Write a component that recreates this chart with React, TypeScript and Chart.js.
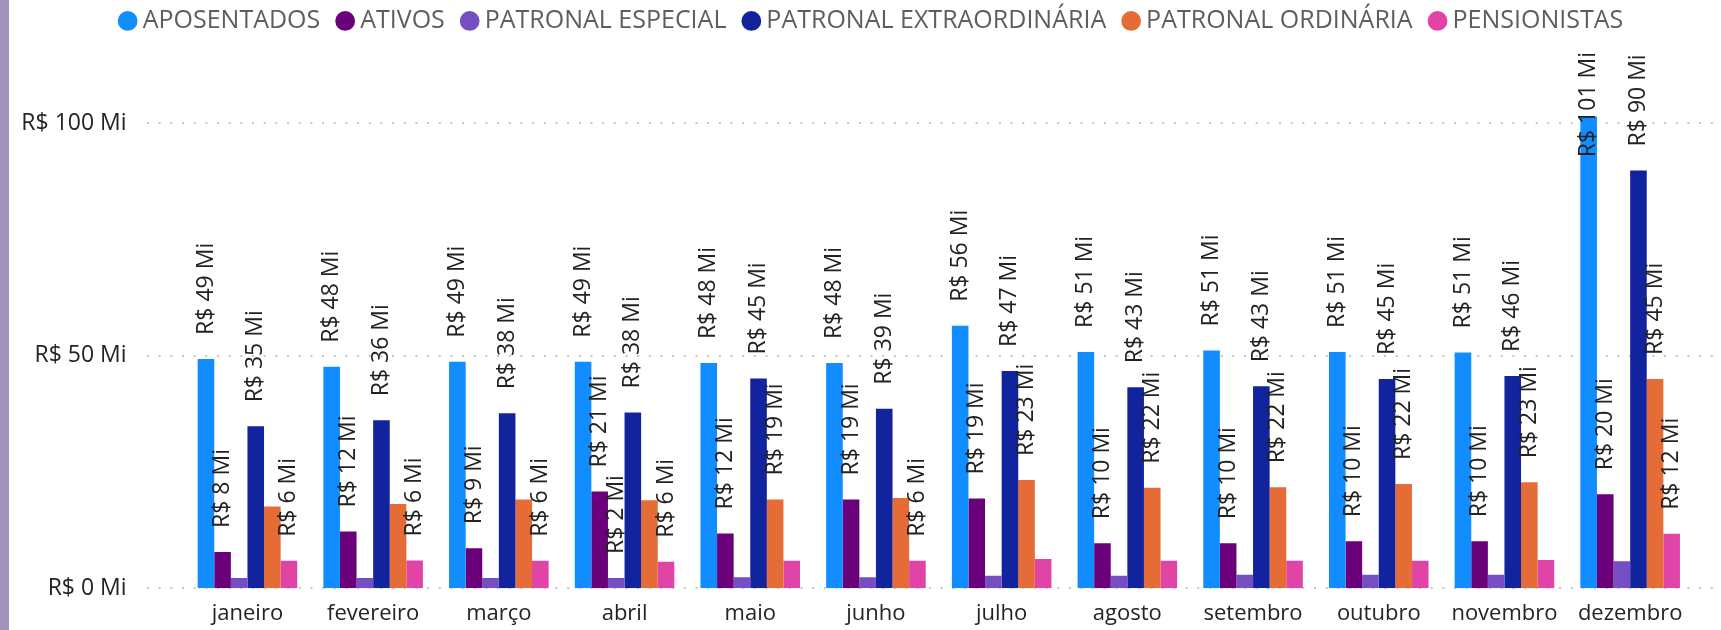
import React, { useEffect, useRef } from "react";
import { Chart, registerables } from "chart.js";

Chart.register(...registerables);

const months = [
  "janeiro", "fevereiro", "março", "abril", "maio", "junho",
  "julho", "agosto", "setembro", "outubro", "novembro", "dezembro",
];

const seriesNames = [
  "APOSENTADOS",
  "ATIVOS",
  "PATRONAL ESPECIAL",
  "PATRONAL EXTRAORDINÁRIA",
  "PATRONAL ORDINÁRIA",
  "PENSIONISTAS",
];

// values in R$ millions
const aposentados = [49.3, 47.6, 48.7, 48.7, 48.4, 48.4, 56.4, 50.8, 51.1, 50.8, 50.7, 101.4];
const ativos = [7.8, 12.2, 8.6, 20.8, 11.8, 19.1, 19.3, 9.7, 9.7, 10.1, 10.1, 20.2];
const patronalEspecial = [2.2, 2.2, 2.2, 2.2, 2.4, 2.4, 2.7, 2.7, 2.9, 2.9, 2.9, 5.8];
const patronalExtra = [34.8, 36.1, 37.6, 37.8, 45.1, 38.6, 46.7, 43.2, 43.4, 45.0, 45.6, 89.8];
const patronalOrdinaria = [17.6, 18.1, 19.1, 18.9, 19.1, 19.4, 23.3, 21.6, 21.7, 22.4, 22.8, 45.0];
const pensionistas = [5.9, 6.0, 5.9, 5.7, 5.9, 5.9, 6.3, 5.9, 5.9, 5.9, 6.1, 11.7];

// which data labels are visible (1 = shown)
const aposentadosLabels = [1, 1, 1, 1, 1, 1, 1, 1, 1, 1, 1, 1];
const ativosLabels = [1, 1, 1, 1, 1, 1, 1, 1, 1, 1, 1, 1];
const especialLabels = [0, 0, 0, 1, 0, 0, 0, 0, 0, 0, 0, 0];
const extraLabels = [1, 1, 1, 1, 1, 1, 1, 1, 1, 1, 1, 1];
const ordinariaLabels = [0, 0, 0, 0, 1, 0, 1, 1, 1, 1, 1, 1];
const pensionistasLabels = [1, 1, 1, 1, 0, 1, 0, 0, 0, 0, 0, 1];

const yTicks = [0, 50, 100];

const colors = ["#118DFF", "#6B007B", "#744EC2", "#12239E", "#E66C37", "#E044A7"];

const FONT = "'Open Sans', 'Noto Sans', sans-serif";

const seriesValues = [aposentados, ativos, patronalEspecial, patronalExtra, patronalOrdinaria, pensionistas];
const labelFlags = [aposentadosLabels, ativosLabels, especialLabels, extraLabels, ordinariaLabels, pensionistasLabels];

const fmt = (v: number) => `R$ ${Math.round(v)} Mi`;

export default function App() {
  const canvasRef = useRef<HTMLCanvasElement>(null);

  useEffect(() => {
    document.body.style.margin = "0";
    const canvas = canvasRef.current;
    if (!canvas) return;

    const dottedGrid = {
      id: "dottedGrid",
      beforeDatasetsDraw(chart: any) {
        const ys = chart.scales.y;
        const c = chart.ctx;
        c.save();
        c.strokeStyle = "#c6c6c6";
        c.lineWidth = 2;
        c.setLineDash([2, 9.67]);
        yTicks.forEach((t) => {
          const py = Math.round(ys.getPixelForValue(t));
          c.beginPath();
          c.moveTo(147, py);
          c.lineTo(chart.width, py);
          c.stroke();
        });
        c.restore();
      },
    };

    const dataLabels = {
      id: "dataLabels",
      afterDatasetsDraw(chart: any) {
        const c = chart.ctx;
        c.save();
        c.font = `23px ${FONT}`;
        c.fillStyle = "#222222";
        chart.data.datasets.forEach((ds: any, i: number) => {
          const meta = chart.getDatasetMeta(i);
          if (!chart.isDatasetVisible(i)) return;
          const flags = labelFlags[i];
          meta.data.forEach((el: any, j: number) => {
            if (!flags[j]) return;
            const text = fmt(ds.data[j]);
            const w = c.measureText(text).width;
            let start = el.y - 24;
            const minTop = 52;
            if (start - w < minTop) start = minTop + w;
            c.save();
            c.translate(el.x, start);
            c.rotate(-Math.PI / 2);
            c.textAlign = "left";
            c.textBaseline = "middle";
            c.fillText(text, 0, 0);
            c.restore();
          });
        });
        c.restore();
      },
    };

    const chart = new Chart(canvas, {
      type: "bar",
      data: {
        labels: months,
        datasets: seriesNames.map((name, i) => ({
          label: name,
          data: seriesValues[i],
          backgroundColor: colors[i],
          borderColor: colors[i],
          borderWidth: 0,
          categoryPercentage: 0.792,
          barPercentage: 1.0,
        })),
      },
      options: {
        responsive: false,
        animation: false,
        devicePixelRatio: 1,
        layout: { autoPadding: false, padding: { top: -14, left: 10, right: -17.4, bottom: 0 } },
        plugins: {
          tooltip: { enabled: false },
          legend: {
            position: "top",
            align: "center",
            labels: {
              usePointStyle: true,
              pointStyle: "circle",
              boxWidth: 5,
              boxHeight: 14,
              padding: 22.4,
              color: "#605E5C",
              font: { family: FONT, size: 25 },
            },
          },
        },
        scales: {
          x: {
            grid: { display: false },
            border: { display: false },
            ticks: {
              color: "#252423",
              font: { family: FONT, size: 22 },
              padding: 4,
              maxRotation: 0,
              autoSkip: false,
            },
            afterFit: (scale: any) => {
              scale.height = 41.7;
            },
          },
          y: {
            min: 0,
            max: 117.1,
            grid: { display: false, drawTicks: false },
            border: { display: false },
            ticks: {
              stepSize: 50,
              includeBounds: false,
              color: "#252423",
              font: { family: FONT, size: 23 },
              padding: 58,
              callback: (v: any) => fmt(Number(v)),
            },
            afterFit: (scale: any) => {
              scale.width = 174.6;
              scale.paddingTop = 0;
              scale.paddingBottom = 0;
            },
          },
          yRight: {
            position: "right",
            display: true,
            grid: { display: false, drawTicks: false },
            border: { display: false },
            ticks: { display: false, padding: 0 },
            afterFit: (scale: any) => {
              scale.width = 45.4;
              scale.paddingTop = 0;
              scale.paddingBottom = 0;
            },
          },
        },
      },
      plugins: [dottedGrid, dataLabels],
    });

    return () => chart.destroy();
  }, []);

  return (
    <div style={{ position: "relative", width: 1721, height: 630, background: "#ffffff" }}>
      <canvas ref={canvasRef} width={1721} height={630} style={{ display: "block" }} />
      <div
        style={{
          position: "absolute",
          left: 0,
          top: 0,
          width: 9,
          height: 630,
          background: "#A094BD",
        }}
      />
    </div>
  );
}
